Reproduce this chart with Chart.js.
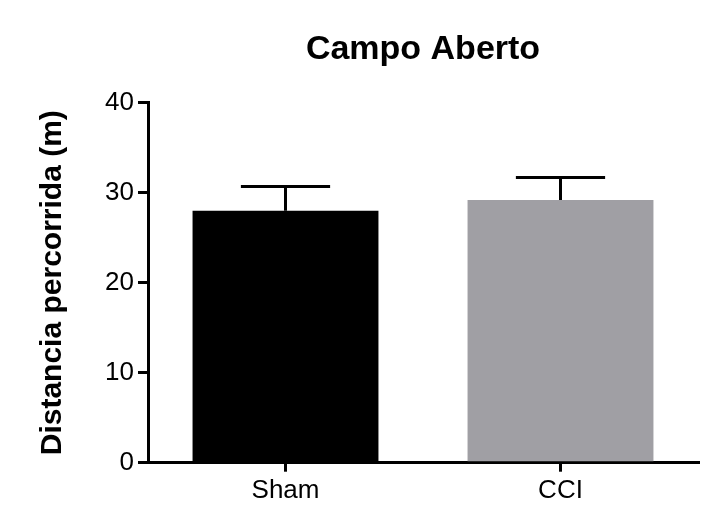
<!DOCTYPE html>
<html>
<head>
<meta charset="utf-8">
<title>Campo Aberto</title>
<script src="https://cdn.jsdelivr.net/npm/chart.js@4"></script>
<style>
  html, body { margin: 0; padding: 0; background: #fff; }
  #wrap { width: 708px; height: 512px; position: relative; }
</style>
</head>
<body>
<div id="wrap"><canvas id="chart"></canvas></div>
<script>
// data
const groups = ['Sham', 'CCI'];
const distance = [28.0, 29.2];      // mean distance (m)
const distanceErr = [2.7, 2.5];     // error bar (upper only)
const barColors = ['#000000', '#a09fa4'];
const yTicks = [0, 10, 20, 30, 40];
const chartTitle = 'Campo Aberto';

const FONT = 'Liberation Sans, Arial, sans-serif';

// draws the upward error bars using the y scale
const errorBars = {
  id: 'errorBars',
  afterDatasetsDraw(chart) {
    const ctx = chart.ctx;
    const y = chart.scales.y;
    const meta = chart.getDatasetMeta(0);
    ctx.save();
    ctx.strokeStyle = '#000';
    ctx.lineWidth = 3;
    meta.data.forEach((bar, i) => {
      const top = y.getPixelForValue(distance[i] + distanceErr[i]);
      const half = bar.width * 0.24;
      ctx.beginPath();
      ctx.moveTo(bar.x, bar.y);
      ctx.lineTo(bar.x, top);
      ctx.moveTo(bar.x - half, top);
      ctx.lineTo(bar.x + half, top);
      ctx.stroke();
    });
    ctx.restore();
  }
};

// title centred over the plot area (like the original), not the whole canvas
const plotTitle = {
  id: 'plotTitle',
  afterDraw(chart) {
    const { ctx, chartArea } = chart;
    ctx.save();
    ctx.fillStyle = '#000';
    ctx.font = 'bold 34px ' + FONT;
    ctx.textAlign = 'center';
    ctx.textBaseline = 'alphabetic';
    ctx.fillText(chartTitle, (chartArea.left + chartArea.right) / 2, 58.5);
    ctx.restore();
  }
};

const ctx = document.getElementById('chart').getContext('2d');
new Chart(ctx, {
  type: 'bar',
  data: {
    labels: groups,
    datasets: [{
      data: distance,
      backgroundColor: barColors,
      borderWidth: 0,
      categoryPercentage: 1,
      barPercentage: 0.676
    }]
  },
  options: {
    responsive: true,
    maintainAspectRatio: false,
    animation: false,
    layout: { padding: { left: 0, right: 10, top: 102.7, bottom: 0 } },
    plugins: {
      legend: { display: false },
      tooltip: { enabled: false },
      title: { display: false }
    },
    scales: {
      x: {
        offset: true,
        grid: { offset: false, drawOnChartArea: false, drawTicks: true, tickLength: 9, color: '#000', lineWidth: 3 },
        border: { display: true, color: '#000', width: 3 },
        ticks: {
          color: '#000',
          padding: 4,
          font: { family: FONT, size: 26 }
        },
        afterFit(scale) { scale.height = 49.3; }
      },
      y: {
        min: 0,
        max: 40,
        afterBuildTicks(scale) { scale.ticks = yTicks.map(v => ({ value: v })); },
        grid: { drawOnChartArea: false, drawTicks: true, tickLength: 10, color: '#000', lineWidth: 3 },
        border: { display: true, color: '#000', width: 3 },
        ticks: {
          color: '#000',
          padding: 4,
          font: { family: FONT, size: 26 }
        },
        title: {
          display: true,
          text: 'Distancia percorrida (m)',
          color: '#000',
          font: { family: FONT, size: 30, weight: 'bold' },
          padding: { top: 35, bottom: 0 }
        },
        afterFit(scale) { scale.width = 148; }
      }
    }
  },
  plugins: [errorBars, plotTitle]
});
</script>
</body>
</html>
